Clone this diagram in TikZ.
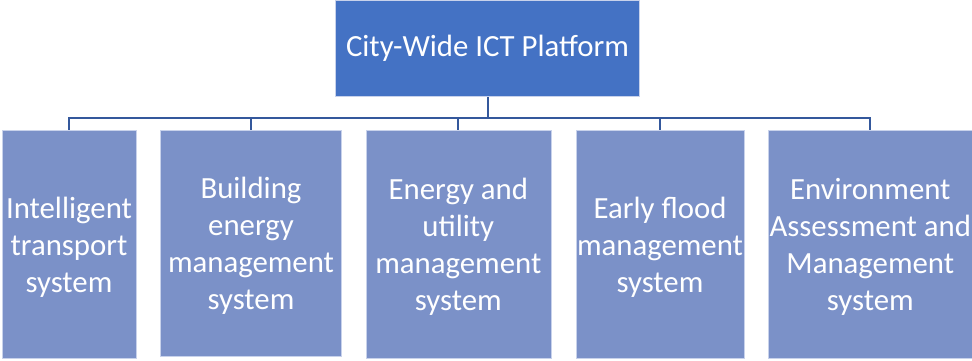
\documentclass[tikz,border=0pt]{standalone}
\usepackage{fontspec}
\setmainfont{Carlito}
\definecolor{topblue}{RGB}{68,114,196}
\definecolor{subblue}{RGB}{123,145,200}
\definecolor{linkblue}{RGB}{52,88,156}
\definecolor{rim}{RGB}{200,210,235}
\begin{document}
\begin{tikzpicture}[x=1pt,y=-1pt,
  topbox/.style={fill=topblue,draw=rim,line width=0.6pt,text=white,inner sep=0pt,
    align=center,font=\fontsize{30.8}{37}\selectfont,minimum height=96.7pt},
  subbox/.style={fill=subblue,draw=rim,line width=0.6pt,inner sep=0pt,minimum height=228pt},
  subtext/.style={text=white,inner sep=0pt,align=center,font=\fontsize{30.8}{37}\selectfont,yshift=-3pt},
  link/.style={draw=linkblue,line width=2pt}]
\useasboundingbox (0,0) rectangle (972,360);
\node[topbox,minimum width=303.5pt] (top) at (487.5,48.35) {City-Wide ICT Platform};
\node[subbox,minimum width=134pt] (b1) at (69,244) {};
\node[subbox,minimum width=181pt,minimum height=226pt] (b2) at (251,243) {};
\node[subbox,minimum width=185pt] (b3) at (458.3,244) {};
\node[subbox,minimum width=168pt] (b4) at (660,244) {};
\node[subbox,minimum width=203.3pt] (b5) at (870.3,244) {};
\node[subtext] (t1) at (b1.center) {Intelligent\\transport\\system};
\node[subtext] (t2) at (b2.center) {Building\\energy\\management\\system};
\node[subtext] (t3) at (b3.center) {Energy and\\utility\\management\\system};
\node[subtext] (t4) at (b4.center) {Early flood\\management\\system};
\node[subtext] (t5) at (b5.center) {Environment\\Assessment and\\Management\\system};
\coordinate (hub) at (487.5,118);
\draw[link] (top.south) -- (hub);
\foreach \b in {b1,b2,b3,b4,b5}{
  \draw[link] (hub) -| (\b.north);
}
\end{tikzpicture}
\end{document}
